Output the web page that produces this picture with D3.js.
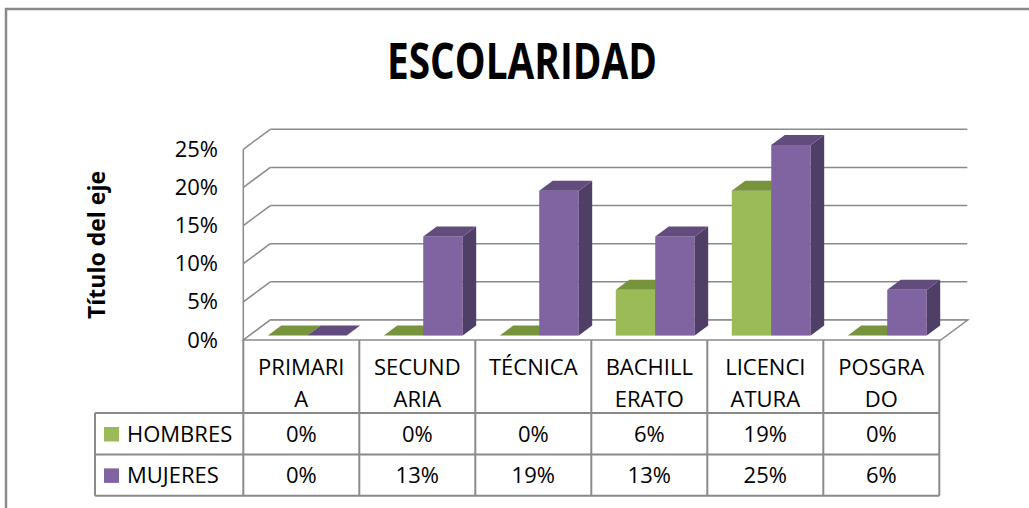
<!DOCTYPE html>
<html>
<head>
<meta charset="utf-8">
<script src="https://cdn.jsdelivr.net/npm/d3@7"></script>
<style>
  body { margin: 0; background: #fff; }
  text { font-family: "Open Sans", sans-serif; fill: #000; }
</style>
</head>
<body>
<div id="plot"></div>
<script>
// data
const categories = ["PRIMARIA", "SECUNDARIA", "TÉCNICA", "BACHILLERATO", "LICENCIATURA", "POSGRADO"];
const categoryLines = [["PRIMARI", "A"], ["SECUND", "ARIA"], ["TÉCNICA"], ["BACHILL", "ERATO"], ["LICENCI", "ATURA"], ["POSGRA", "DO"]];
const seriesNames = ["HOMBRES", "MUJERES"];
const hombres = [0, 0, 0, 0.06, 0.19, 0];
const mujeres = [0, 0.13, 0.19, 0.13, 0.25, 0.06];
const yTicks = [0, 0.05, 0.10, 0.15, 0.20, 0.25];

const seriesValues = [hombres, mujeres];
const colors = {
  HOMBRES: { front: "#9bbb59", top: "#77933c", side: "#677f34" },
  MUJERES: { front: "#8064a2", top: "#624c7d", side: "#4f3f67" }
};

const W = 1029, H = 508;
const gridColor = "#8a8a8a";
const svg = d3.select("#plot").append("svg")
  .attr("width", W).attr("height", H);

// outer chart border
svg.append("rect")
  .attr("x", 6).attr("y", 9)
  .attr("width", 1200).attr("height", 700)
  .attr("fill", "none").attr("stroke", gridColor).attr("stroke-width", 2.5);

// title
svg.append("text")
  .attr("x", 522).attr("y", 79)
  .attr("text-anchor", "middle")
  .attr("textLength", 270).attr("lengthAdjust", "spacingAndGlyphs")
  .style("font-family", "'Liberation Sans Narrow', 'Open Sans', sans-serif")
  .style("font-weight", "bold").style("font-size", "50px")
  .text("ESCOLARIDAD");

// scales
const x0 = d3.scaleBand().domain(categories).range([243.3, 939.3]);
const x1 = d3.scaleBand().domain(seriesNames).range([0, x0.bandwidth()]).paddingOuter(0.47);
const y = d3.scaleLinear().domain([0, 0.25]).range([340, 149.3]);
const DX = 27, DY = -20;          // depth of the floor / walls
const f0 = 0.22, f1 = 0.72;       // bar depth span (fraction of floor depth)

// left wall: vertical edge + diagonals
svg.append("line")
  .attr("x1", x0.range()[0]).attr("x2", x0.range()[0])
  .attr("y1", y(0.25)).attr("y2", y(0))
  .attr("stroke", gridColor).attr("stroke-width", 1.5);
svg.selectAll("line.diag")
  .data(yTicks)
  .enter()
  .append("line")
  .attr("class", "diag")
  .attr("x1", x0.range()[0]).attr("y1", d => y(d))
  .attr("x2", x0.range()[0] + DX).attr("y2", d => y(d) + DY)
  .attr("stroke", gridColor).attr("stroke-width", 1.5);

// back wall gridlines
svg.selectAll("line.grid")
  .data(yTicks)
  .enter()
  .append("line")
  .attr("class", "grid")
  .attr("x1", x0.range()[0] + DX).attr("x2", x0.range()[1] + 1 + DX)
  .attr("y1", d => y(d) + DY).attr("y2", d => y(d) + DY)
  .attr("stroke", gridColor).attr("stroke-width", 1.5);

// floor
const fx0 = x0.range()[0], fx1 = x0.range()[1] + 1.4, fy = y(0);
svg.append("polygon")
  .attr("points", [[fx0, fy], [fx0 + DX, fy + DY], [fx1 + DX, fy + DY], [fx1, fy]].join(" "))
  .attr("fill", "#fff").attr("stroke", gridColor).attr("stroke-width", 1.5);

// bars (back to front, left to right)
const bars = [];
categories.forEach((c, i) => {
  seriesNames.forEach((s, j) => bars.push({ c: c, s: s, v: seriesValues[j][i] }));
});
const bdx = DX * (f1 - f0), bdy = DY * (f1 - f0);
const barG = svg.selectAll("g.bar")
  .data(bars)
  .enter()
  .append("g")
  .attr("class", "bar");
barG.each(function(d) {
  const g = d3.select(this);
  const xl = x0(d.c) + x1(d.s) + DX * f0;
  const xr = xl + x1.bandwidth();
  const yb = y(0) + DY * f0;
  const yt = y(d.v) + DY * f0;
  if (d.v > 0) {
    g.append("rect")
      .attr("x", xl).attr("y", yt)
      .attr("width", xr - xl).attr("height", yb - yt)
      .attr("fill", colors[d.s].front);
    g.append("polygon")
      .attr("points", [[xr, yt], [xr + bdx, yt + bdy], [xr + bdx, yb + bdy], [xr, yb]].join(" "))
      .attr("fill", colors[d.s].side);
  }
  g.append("polygon")
    .attr("points", [[xl, yt], [xl + bdx, yt + bdy], [xr + bdx, yt + bdy], [xr, yt]].join(" "))
    .attr("fill", colors[d.s].top);
});

// y axis labels
const yAxis = d3.axisLeft(y)
  .tickValues(yTicks)
  .tickFormat(d3.format(".0%"))
  .tickSize(0)
  .tickPadding(0);
const yg = svg.append("g")
  .attr("transform", "translate(218,0)")
  .call(yAxis);
yg.select(".domain").remove();
yg.selectAll("text")
  .style("font-family", "'Open Sans', sans-serif")
  .style("font-size", "22px")
  .attr("fill", "#000");

// axis title
svg.append("text")
  .attr("transform", "translate(105,245) rotate(-90)")
  .attr("text-anchor", "middle")
  .style("font-weight", "bold").style("font-size", "23px")
  .text("Título del eje");

// data table
const tTop = y(0), hdrBottom = 413, rowH = 41.4, tLeft = 95;
const tRight = x0.range()[1];
const colEdges = categories.map(c => x0(c)).concat([tRight]);
svg.selectAll("line.col")
  .data(colEdges)
  .enter()
  .append("line")
  .attr("class", "col")
  .attr("x1", d => d).attr("x2", d => d)
  .attr("y1", tTop).attr("y2", hdrBottom + 2 * rowH)
  .attr("stroke", gridColor).attr("stroke-width", 2);
svg.selectAll("line.row")
  .data([0, 1, 2])
  .enter()
  .append("line")
  .attr("class", "row")
  .attr("x1", tLeft).attr("x2", tRight)
  .attr("y1", d => hdrBottom + d * rowH).attr("y2", d => hdrBottom + d * rowH)
  .attr("stroke", gridColor).attr("stroke-width", 2);
svg.append("line")
  .attr("x1", tLeft).attr("x2", tLeft)
  .attr("y1", hdrBottom).attr("y2", hdrBottom + 2 * rowH)
  .attr("stroke", gridColor).attr("stroke-width", 2);

// header labels
svg.selectAll("text.cat")
  .data(categories)
  .enter()
  .append("text")
  .attr("class", "cat")
  .attr("x", d => x0(d) + x0.bandwidth() / 2)
  .attr("y", 375)
  .attr("text-anchor", "middle")
  .style("font-size", "22px")
  .each(function(d, i) {
    d3.select(this).selectAll("tspan")
      .data(categoryLines[i])
      .enter()
      .append("tspan")
      .attr("x", x0(d) + x0.bandwidth() / 2)
      .attr("dy", (t, k) => k === 0 ? 0 : 31.7)
      .text(t => t);
  });

// rows: legend key + values
seriesNames.forEach((s, j) => {
  const rowY = hdrBottom + j * rowH;
  svg.append("rect")
    .attr("x", 104).attr("y", rowY + 14)
    .attr("width", 15).attr("height", 14.5)
    .attr("fill", colors[s].front);
  svg.append("text")
    .attr("x", 127).attr("y", rowY + rowH / 2 + 8)
    .style("font-size", "22px")
    .text(s);
  svg.selectAll("text.val" + j)
    .data(seriesValues[j])
    .enter()
    .append("text")
    .attr("class", "val" + j)
    .attr("x", (d, i) => x0(categories[i]) + x0.bandwidth() / 2)
    .attr("y", rowY + rowH / 2 + 8)
    .attr("text-anchor", "middle")
    .style("font-size", "22px")
    .text(d => d3.format(".0%")(d));
});
</script>
</body>
</html>
